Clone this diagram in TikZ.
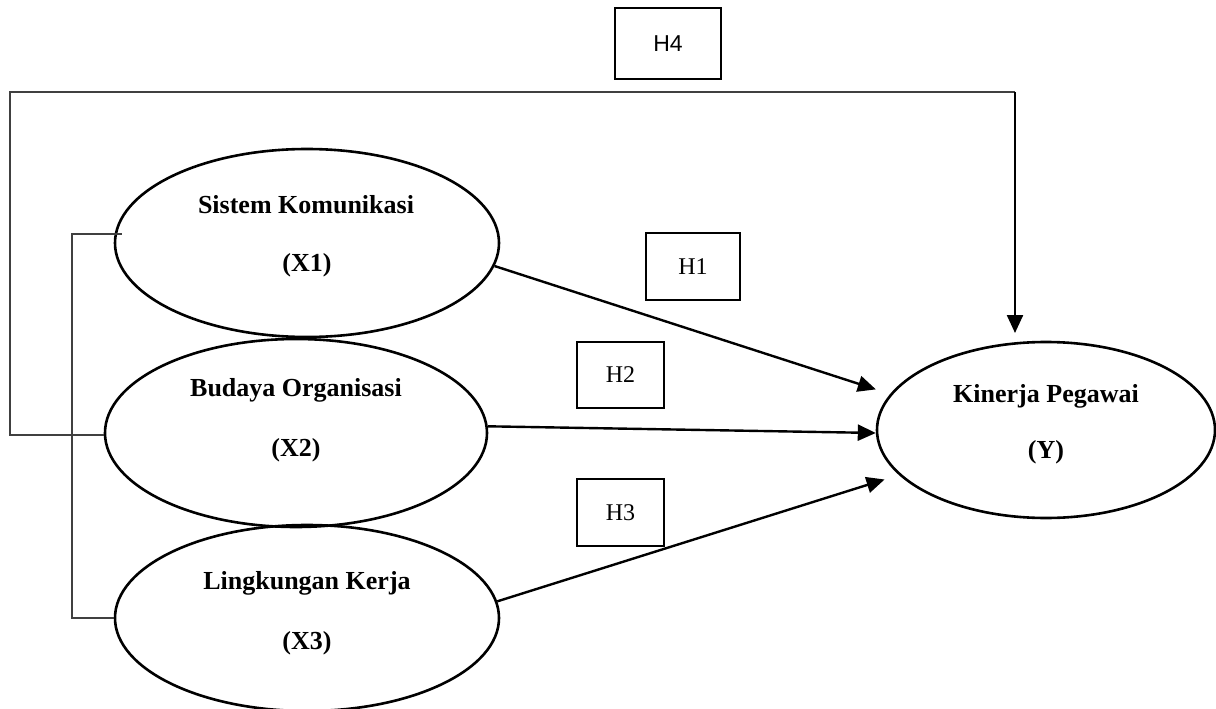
\documentclass[tikz,border=0pt]{standalone}
\usepackage{fontspec}
\setmainfont{Liberation Serif}
\newfontfamily\hsans{Liberation Sans}
\usetikzlibrary{shapes.geometric,arrows.meta,calc}
\begin{document}
\begin{tikzpicture}[x=1pt,y=-1pt,
  var/.style={draw=black,line width=2.6pt,ellipse,inner sep=0pt},
  lbl/.style={font=\fontsize{26}{30}\selectfont\bfseries,inner sep=0pt},
  hbox/.style={draw=black,line width=2.4pt,rectangle,inner sep=0pt,font=\fontsize{24}{28}\selectfont},
  arr/.style={line width=2.4pt,-{Triangle[length=18pt,width=16pt]}},
  link/.style={draw=black!75,line width=1.6pt}]
\useasboundingbox (0,0) rectangle (1216,709);
% ellipses
\node[var,minimum width=384pt,minimum height=188pt] (X1) at (307,243) {};
\node[var,minimum width=382pt,minimum height=188pt] (X2) at (296,433) {};
\node[var,minimum width=384pt,minimum height=186pt] (X3) at (307,618) {};
\node[var,minimum width=338pt,minimum height=176pt] (Y) at (1046,430) {};
% labels
\node[lbl] (t1a) at (306,205) {Sistem Komunikasi};
\node[lbl] (t1b) at (307,265) {(X1)};
\node[lbl] (t2a) at (296,390) {Budaya Organisasi};
\node[lbl] (t2b) at (296,450) {(X2)};
\node[lbl] (t3a) at (307,583) {Lingkungan Kerja};
\node[lbl] (t3b) at (307,643) {(X3)};
\node[lbl] (tya) at (1046,396) {Kinerja Pegawai};
\node[lbl] (tyb) at (1046,452) {(Y)};
% hypothesis boxes
\node[hbox,minimum width=94pt,minimum height=67pt] (H1) at (693,266.5) {H1};
\node[hbox,minimum width=87pt,minimum height=66pt] (H2) at (620.5,375) {H2};
\node[hbox,minimum width=87pt,minimum height=67pt] (H3) at (620.5,512.5) {H3};
\node[hbox,minimum width=106pt,minimum height=71pt,font=\hsans\fontsize{23}{27}\selectfont] (H4) at (668,43.5) {H4};
% arrows to Y
\draw[arr,shorten >=15pt] (X1.-7) -- (Y.167);
\draw[arr] (X2.2.4) -- (Y.181.7);
\draw[arr,shorten >=15pt] (X3.5.4) -- (Y.197.5);
% H4 path
\coordinate (c0) at (10,435);
\coordinate (c1) at (10,92);
\coordinate (c2) at (1015,92);
\coordinate (c3) at (1015,333);
\draw[link] (X2.west |- c0) -- (c0) -- (c1) -- (c2);
\draw[arr] (c2) -- (c3);
% bracket
\coordinate (b1) at (72,234);
\coordinate (b3) at (72,618);
\draw[link] ($(X1.west |- b1)+(8,0)$) -- (b1) -- (b3) -- (X3.west |- b3);
\end{tikzpicture}
\end{document}
